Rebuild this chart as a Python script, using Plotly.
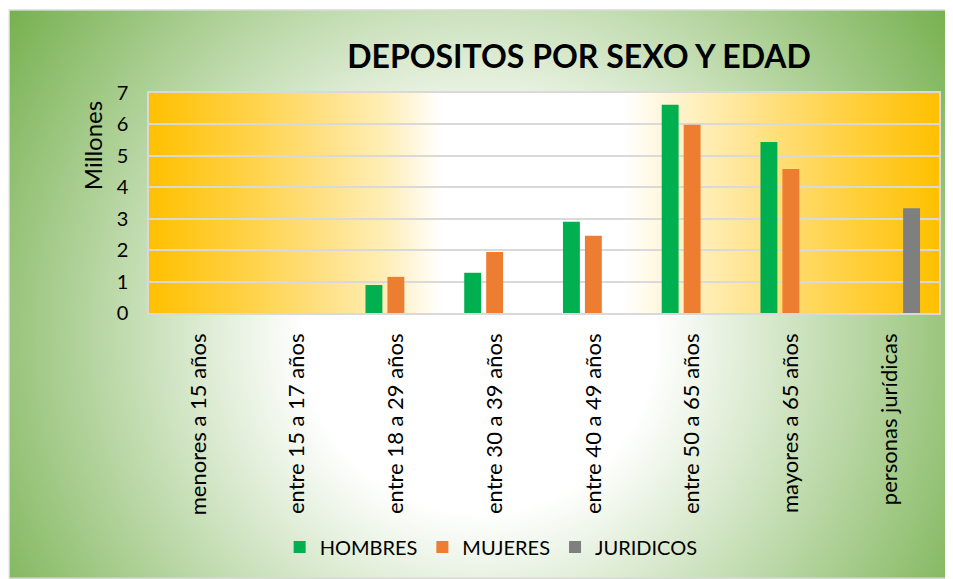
import base64
import plotly.graph_objects as go

categories = ["menores a 15 años", "entre 15 a 17 años", "entre 18 a 29 años",
              "entre 30 a 39 años", "entre 40 a 49 años", "entre 50 a 65 años",
              "mayores a 65 años", "personas jurídicas"]
hombres = [0, 0, 0.89, 1.28, 2.90, 6.63, 5.44, 0]
mujeres = [0, 0, 1.15, 1.94, 2.46, 5.99, 4.58, 0]
juridicos = [0, 0, 0, 0, 0, 0, 0, 3.33]
series_names = ["HOMBRES", "MUJERES", "JURIDICOS"]
series_colors = ["#00B050", "#ED7D31", "#7F7F7F"]

OFF = 8  # default body margin of the page
W, H = 953 - OFF, 579 - OFF
# reference pixel positions (page coords) converted to figure coords
PL, PR, PT, PB = 149 - OFF, 941 - OFF, 93 - OFF, 313 - OFF
pw, ph = PR - PL, PB - PT

FONT = "Lato"

outer_svg = f'''<svg xmlns="http://www.w3.org/2000/svg" width="{W}" height="{H}" viewBox="0 0 {W} {H}" preserveAspectRatio="none">
<defs><radialGradient id="g" gradientUnits="userSpaceOnUse" cx="{480 - OFF}" cy="{335 - OFF}" r="590">
<stop offset="0" stop-color="#FFFFFF"/><stop offset="0.3" stop-color="#FFFFFF"/>
<stop offset="1" stop-color="#70AD47"/></radialGradient></defs>
<rect x="0.75" y="{10 - OFF}" width="{W - 1.5}" height="{H - (10 - OFF) - 0.75}" fill="url(#g)" stroke="#D9D9D9" stroke-width="1.5"/>
</svg>'''

inner_svg = f'''<svg xmlns="http://www.w3.org/2000/svg" width="{pw}" height="{ph}" viewBox="0 0 {pw} {ph}" preserveAspectRatio="none">
<defs><linearGradient id="o" x1="0" y1="0" x2="1" y2="0">
<stop offset="0" stop-color="#FFC000"/><stop offset="0.14" stop-color="#FFD44F"/>
<stop offset="0.3" stop-color="#FFEEB8"/><stop offset="0.37" stop-color="#FFFFFF"/>
<stop offset="0.6" stop-color="#FFFFFF"/><stop offset="0.7" stop-color="#FFEEB8"/>
<stop offset="0.86" stop-color="#FFD44F"/><stop offset="1" stop-color="#FFC000"/>
</linearGradient></defs>
<rect x="0" y="0" width="{pw}" height="{ph}" fill="url(#o)"/>
</svg>'''

def uri(svg):
    return "data:image/svg+xml;base64," + base64.b64encode(svg.encode()).decode()

fig = go.Figure()
for name, vals, col in zip(series_names, [hombres, mujeres, juridicos], series_colors):
    fig.add_trace(go.Bar(x=categories, y=vals, name=name, marker_color=col,
                         marker_line_width=0))

fig.update_layout(
    width=W, height=H,
    margin=dict(l=PL, r=W - PR, t=PT, b=H - PB, pad=0),
    paper_bgcolor="white", plot_bgcolor="rgba(0,0,0,0)",
    barmode="group", bargap=0.333, bargroupgap=0.23,
    font=dict(family=FONT, color="#000000"),
    title=dict(text="<b>DEPOSITOS POR SEXO Y EDAD</b>", x=(579 - OFF) / W, xanchor="center",
               y=1 - (57 - OFF) / H, yanchor="middle",
               font=dict(size=32, family=FONT, color="#000000")),
    showlegend=True,
    legend=dict(orientation="h", x=(492 - OFF - PL) / pw, xanchor="center",
                y=-(547 - OFF - PB) / ph, yanchor="middle", font=dict(size=20, family=FONT),
                bgcolor="rgba(0,0,0,0)"),
    images=[
        dict(source=uri(outer_svg), xref="paper", yref="paper",
             x=-PL / pw, y=1 + PT / ph, sizex=W / pw, sizey=H / ph,
             sizing="stretch", layer="below", xanchor="left", yanchor="top"),
        dict(source=uri(inner_svg), xref="paper", yref="paper",
             x=0, y=1, sizex=1, sizey=1,
             sizing="stretch", layer="below", xanchor="left", yanchor="top"),
    ],
    annotations=[dict(text="Millones", textangle=-90,
                      x=(92 - OFF - PL) / pw, y=(PB - (146 - OFF)) / ph,
                      xref="paper", yref="paper", xanchor="center", yanchor="middle",
                      showarrow=False, font=dict(size=24, family=FONT))],
)

fig.update_yaxes(range=[0, 7], dtick=1, showgrid=True, gridcolor="#D9D9D9", gridwidth=1.5,
                 zeroline=False, showline=True, linecolor="#D9D9D9", linewidth=1.5, mirror=True,
                 tickfont=dict(size=20, family=FONT, color="#000000"), ticks="",
                 ticklabelstandoff=15)
fig.update_xaxes(showline=True, linecolor="#D9D9D9", linewidth=1.5, mirror=True,
                 tickangle=-90, tickfont=dict(size=22, family=FONT, color="#000000"),
                 ticks="", ticklabelstandoff=10)

fig.write_html("out.html")
